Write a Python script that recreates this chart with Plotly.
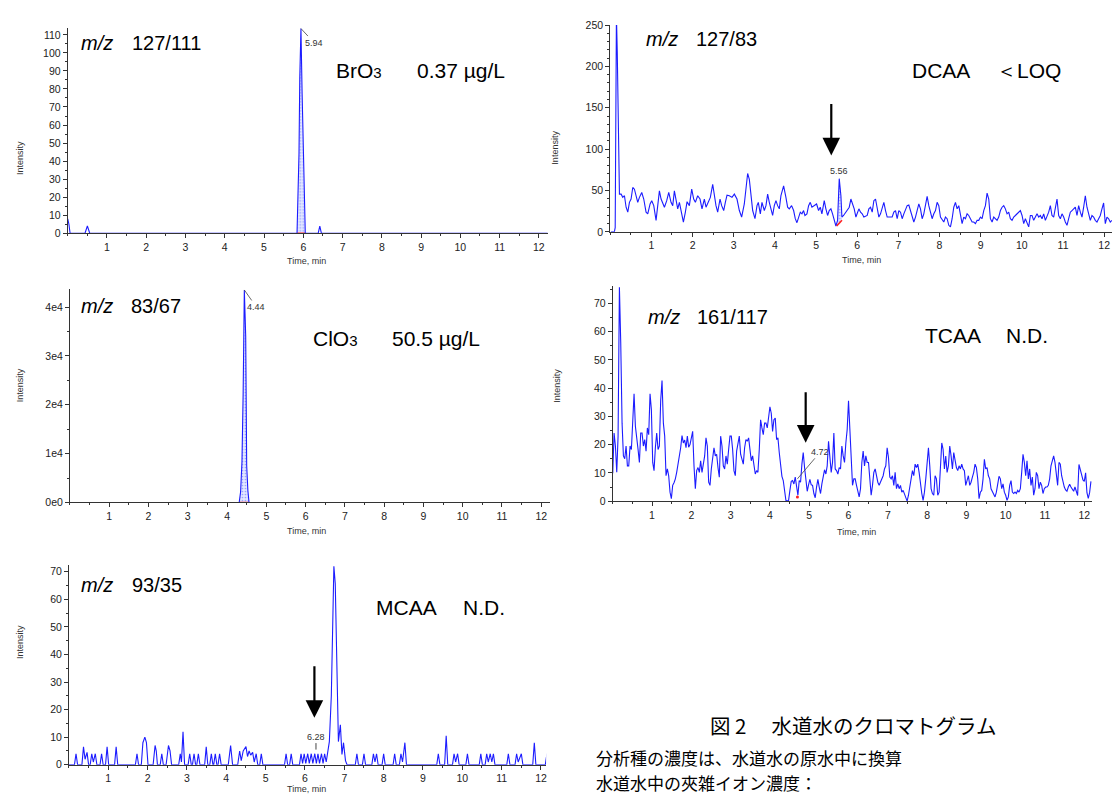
import plotly.graph_objects as go

W, H = 1113, 801

# ---------------- data ----------------
# Panel 1: m/z 127/111  (BrO3)
BRO3_T = [0.00, 0.03, 0.06, 0.44, 0.50, 0.56, 5.84, 5.86, 5.89, 5.91, 5.94, 5.97, 6.00, 6.02, 6.05,
          6.38, 6.42, 6.46, 12.25]
BRO3_I = [8, 5, 0, 0, 4, 0, 0, 14, 44, 86, 113.5, 77, 40, 16, 0, 0, 4, 0, 0]
BRO3_WIN = (5.84, 6.05)
BRO3_RT, BRO3_TOP = 5.94, 113.5

# Panel 3: m/z 83/67  (ClO3)
CLO3_T = [0.0, 4.31, 4.345, 4.38, 4.41, 4.44, 4.475, 4.50, 4.53, 4.56, 12.25]
CLO3_I = [0, 0, 2150, 8340, 22320, 43500, 34080, 7530, 2490, 0, 0]
CLO3_WIN = (4.31, 4.56)
CLO3_RT, CLO3_TOP = 4.44, 43500

# Panel 2: m/z 127/83  (DCAA)  -- first part with read-off times
DCAA_T_A = [0.02, 0.10, 0.12, 0.15, 0.17, 0.19, 0.21,
            0.223, 0.264, 0.304, 0.345, 0.385, 0.426, 0.466, 0.506, 0.547, 0.587,
            0.628, 0.668, 0.709, 0.765, 0.814, 0.870, 0.911, 0.968, 1.008, 1.057,
            1.113, 1.154, 1.194, 1.235, 1.275, 1.316, 1.372, 1.421, 1.477, 1.518,
            1.558, 1.599, 1.639, 1.680, 1.720, 1.777, 1.825, 1.866, 1.922, 1.979,
            2.027, 2.068, 2.124, 2.181, 2.229, 2.286, 2.327, 2.383, 2.432, 2.489,
            2.529, 2.569, 2.610, 2.667, 2.707, 2.756, 2.796, 2.837, 2.893, 2.958,
            3.015, 3.079, 3.136, 3.192, 3.257, 3.298, 3.338, 3.379, 3.419, 3.460,
            3.516, 3.565, 3.597, 3.646, 3.686, 3.743, 3.783, 3.824, 3.864, 3.905,
            3.945, 3.985, 4.026, 4.066, 4.107, 4.147, 4.212, 4.268, 4.309, 4.349,
            4.406, 4.455, 4.495, 4.536, 4.576, 4.617, 4.657, 4.697, 4.730, 4.778,
            4.819, 4.859, 4.900, 4.956, 5.013, 5.061, 5.102, 5.142, 5.199, 5.239,
            5.280, 5.320, 5.361, 5.401, 5.442, 5.482, 5.523, 5.563, 5.604, 5.628,
            5.668, 5.717, 5.765, 5.806, 5.846, 5.886, 5.927, 5.968]
DCAA_I_A = [0, 0, 5, 262, 218, 134, 61,
            45.6, 45.6, 41.7, 43.7, 29.8, 23.8, 35.7, 39.7, 53.6, 51.6,
            43.7, 35.7, 41.7, 47.6, 39.7, 23.8, 21.8, 33.7, 37.7, 31.7,
            13.9, 35.7, 49.6, 39.7, 33.7, 29.8, 37.7, 47.6, 35.7, 31.7,
            49.6, 35.7, 27.8, 35.7, 25.8, 11.9, 23.8, 36.5, 31.7, 51.6,
            39.7, 35.7, 43.7, 39.7, 27.8, 39.7, 29.8, 35.7, 41.7, 57.5,
            43.7, 31.7, 23.8, 39.7, 31.7, 25.8, 35.7, 44.4, 43.7, 41.7,
            45.6, 39.7, 25.8, 17.9, 33.7, 51.6, 70.6, 63.5, 43.7, 25.8,
            15.9, 31.7, 35.7, 21.8, 35.7, 25.8, 31.7, 45.6, 35.7, 27.8,
            19.8, 31.7, 37.7, 31.7, 27.8, 43.7, 55.6, 41.7, 29.8, 27.8,
            31.7, 25.8, 15.9, 11.1, 17.9, 23.8, 21.8, 25.8, 19.8, 21.8,
            31.7, 35.7, 29.8, 31.7, 33.7, 25.8, 29.8, 21.8, 37.7, 27.8,
            19.8, 25.8, 27.8, 21.8, 13.9, 7.1, 13.9, 64.3, 43.7, 17.9,
            19.8, 23.8, 27.8, 29.8, 39.7, 33.7, 27.8, 17.9]
# second part: regular scans from 6.00 min
DCAA_B_START, DCAA_B_STEP = 6.00, 0.04045
DCAA_I_B = [21.8, 27.8, 23.8, 21.8, 17.9, 19, 19.8, 27.8, 29.8, 23.8,
            37.7, 39.7, 29.8, 17.9, 21.8, 29.8, 35.7, 25.8, 17.9, 17.9,
            17.9, 17.9, 23.8, 25.8, 15.9, 25.8, 23.8, 15.9, 21.8, 27.8,
            31.7, 32.5, 25.8, 17.9, 11.9, 17.9, 27.8, 33.7, 27.8, 15.9,
            21.8, 31.7, 42.9, 31.7, 21.8, 15.9, 21.8, 25.8, 35.7, 31.7,
            17.9, 13.9, 11.9, 17.9, 15.9, 7.9, 6.0, 15.9, 29.8, 35.7,
            27.8, 31.7, 19.8, 9.9, 17.9, 15.9, 21.8, 19.8, 15.9, 11.9,
            11.9, 9.9, 13.9, 13.9, 17.9, 15.9, 25.8, 31.7, 46.8, 39.7,
            15.9, 11.9, 17.9, 15.9, 13.9, 17.9, 25.8, 29.8, 31.7, 27.8,
            21.8, 23.8, 15.9, 13.9, 17.9, 19.8, 21.8, 23.8, 25.8, 19.8,
            9.9, 15.9, 9.9, 6.0, 19.8, 19.8, 13.9, 17.9, 21.8, 17.9,
            19.8, 15.9, 21.8, 13.9, 17.9, 23.8, 31.7, 19.8, 17.9, 29.8,
            39.7, 19.8, 15.9, 21.8, 17.9, 11.9, 7.9, 15.9, 23.8, 25.8,
            27.8, 29.8, 19.8, 31.7, 23.8, 17.9, 29.8, 43.7, 29.8, 19.8,
            13.9, 19.8, 17.9, 13.9, 11.9, 15.9, 19.8, 27.8, 34.9, 9.9,
            17.9, 15.9, 11.9, 13.9]
DCAA_WIN = (5.50, 5.63)
DCAA_BASE = (7, 14)
DCAA_RT, DCAA_TOP = 5.56, 64.3

# Panel 4: m/z 161/117  (TCAA) -- regular scans
TCAA_START, TCAA_STEP = 0.0, 0.0339
TCAA_I = [9.9, 24.1, 19.5, 10.2, 23, 75.7, 56, 27.6, 16, 15,
          19.5, 12.5, 12.5, 19.5, 18.3, 30, 38, 26.5, 21.2, 18.3,
          13.7, 24.1, 24.1, 19.5, 21.8, 17.7, 25.9, 23.5, 38, 32.3,
          13.7, 10.8, 18.9, 24.1, 18.3, 19.5, 35.7, 42.7, 27.6, 23,
          9, 11.4, 9, 3.2, 0.9, 5.6, 6.5, 7.9, 10.2, 13.1,
          15.4, 18.9, 23.2, 20.6, 21.6, 18.9, 23, 19.1, 20, 23,
          24.7, 12.5, 4.4, 10.8, 11.9, 10.2, 14.3, 10.2, 12.5, 16,
          22.4, 19.5, 6.7, 5.6, 11.4, 16.6, 18.9, 16, 16.6, 11.9,
          8.5, 23, 19.5, 12.5, 11.4, 16, 13.1, 18.3, 23, 23,
          18.3, 10.8, 9, 17.7, 21.2, 23, 16.6, 14.3, 13.1, 18.9,
          21.8, 21.2, 22.4, 18.3, 14.3, 16, 11.9, 9.6, 10.8, 10.2,
          18.3, 28.8, 25.9, 23.5, 27.6, 27.6, 25.9, 30.5, 33.4, 31.1,
          24.7, 28.8, 29.4, 21.8, 22.4, 17.2, 11.9, 8.8, 7.3, 2.7,
          0.3, 0, 0.3, 3.8, 7, 7.3, 6.1, 8.5, 4.2, 2.1,
          7.3, 6.7, 13.1, 17.2, 11.9, 6.5, 3.5, 5.8, 7.7, 5.8,
          5.6, 2.7, 1.2, 5, 7.7, 5, 2.7, 6.1, 9.3, 11.1,
          9.6, 12.5,
          21.2, 16, 10.2, 13.7, 24.1, 11.4, 10.8, 9.6, 11.9, 11.4,
          19.5, 16, 13.7, 20.6, 25.3, 35.5, 25.3, 11.4, 5.6, 7.9,
          7.9, 5.6, 3.2, 1.5, 4.4, 13.7, 17.7, 12.5, 16, 13.7,
          13.7, 7.9, 2.1, 5.6, 10.2, 11.4, 9, 6.7, 5.6, 6.7,
          7.9, 9, 11.4, 12.5, 18.9, 15.4, 8.5, 7.9, 9, 5.6,
          10.2, 4.4, 6.1, 4.4, 5.6, 3.2, 3.8, 2.7, 1.5, 0,
          2.1, 5.6, 7.9, 10.8, 9, 13.1, 11.9, 13.1, 10.2, 5.6,
          2.7, 0.3, 3.2, 7.9, 14.8, 18.9, 12.5, 4.4, 2.7, 2.1,
          9, 7.9, 2.1, 3.2, 11.9, 20.6, 18.3, 11.4, 16, 10.2,
          12.5, 19.5, 16, 11.4, 17.2, 13.7, 11.9, 10.8, 12.5, 11.4,
          13.1, 11.4, 10.8, 5.6, 7.9, 9, 5.6, 6.7, 8.5, 10.2,
          13.1, 11.9, 7.9, 0.9, 3.2, 3.8, 7.9, 14.8, 11.4, 11.9,
          9, 7.9, 4.4, 3.2, 2.7, 1.5, 3.2, 6.7, 8.8, 7.9,
          4.4, 6.1, 3.2, 2.1, 0.3, 1.5, 5.6, 7.3, 3.2, 2.7,
          3.2, 2.7, 3.8, 3.2, 4.4, 10.2, 16.6, 13.7, 9, 14.3,
          7.9, 11.4, 5.6, 8.5, 2.1, 4.4, 10.2, 9, 4.4, 6.7,
          5.6, 2.7, 4.4, 5, 5, 5.6, 7.9, 12.5, 14.8, 16,
          13.7, 9, 5.6, 13.7, 13.1, 9, 6.7,
          5, 4, 3.5, 5, 6, 5, 4, 3.5, 5, 3,
          2, 13, 11, 9, 7.5, 7, 10, 3, 1, 3, 7]
TCAA_MARK = (4.70, 1.5)
TCAA_LABEL = (4.70, 7.9, "4.72")

# Panel 5: m/z 93/35  (MCAA)
MCAA_T = [0.00, 0.14, 0.18, 0.22, 0.33, 0.37, 0.41, 0.46, 0.50, 0.54, 0.58, 0.62, 0.67, 0.71,
          0.79, 0.83, 0.87, 0.93, 0.97, 1.01, 1.16, 1.20, 1.24, 1.69, 1.73, 1.77,
          1.84, 1.88, 1.93, 1.97, 2.01, 2.14, 2.19, 2.22, 2.25, 2.32, 2.36, 2.40,
          2.47, 2.53, 2.57, 2.61, 2.79, 2.83, 2.86, 2.90, 2.94,
          3.03, 3.07, 3.11, 3.14, 3.18, 3.22, 3.25, 3.29, 3.33,
          3.45, 3.49, 3.53, 3.58, 3.62, 3.66, 3.68, 3.72, 3.76, 3.79, 3.83, 3.87,
          4.05, 4.11, 4.16, 4.29, 4.34, 4.38, 4.43, 4.50, 4.54, 4.58, 4.62, 4.67, 4.71, 4.76, 4.80,
          4.85, 4.89, 4.93, 5.48, 5.52, 5.56, 5.61, 5.65, 5.69,
          5.86, 5.90, 5.94, 5.98, 6.02, 6.07, 6.11, 6.16, 6.20, 6.25, 6.29, 6.33, 6.37,
          6.42, 6.46, 6.50, 6.54, 6.58, 6.62, 6.67, 6.70, 6.735, 6.77, 6.79, 6.82, 6.85,
          6.90, 6.94, 6.98, 7.03, 7.07,
          7.28, 7.32, 7.36, 7.46, 7.50, 7.54, 7.70, 7.74, 7.78, 7.82, 7.86, 7.96, 8.00, 8.04,
          8.24, 8.28, 8.32, 8.40, 8.44, 8.48, 8.54, 8.58,
          9.35, 9.39, 9.43, 9.55, 9.59, 9.63, 9.75, 9.79, 9.83, 9.88, 9.92,
          10.09, 10.13, 10.17, 10.43, 10.47, 10.51, 10.58, 10.62, 10.66, 10.71, 10.75, 10.79, 10.83,
          11.13, 11.17, 11.21, 11.34, 11.38, 11.42, 11.50, 11.54, 11.79, 11.83, 11.87,
          12.11, 12.15, 12.19, 12.22, 12.25]
MCAA_I = [0, 0, 4, 0, 0, 6.5, 2, 4.5, 0, 0, 4, 1, 4, 0,
          0, 4, 0, 0, 6.5, 0, 0, 6.5, 0, 0, 4, 0,
          0, 8, 10, 8, 0, 0, 7, 5, 0, 0, 4, 0,
          0, 7, 5, 0, 0, 4, 1, 12, 0,
          0, 4, 0, 0, 4, 0, 0, 4, 0,
          0, 6.5, 0, 0, 4, 0, 0, 4, 0, 0, 4, 0,
          0, 7, 0, 0, 5, 1.5, 5, 6.6, 3, 5, 3.5, 4.5, 1, 4, 0,
          0, 4, 0, 0, 4, 0, 0, 4, 0,
          0, 4, 0.5, 4, 0.5, 4, 0.5, 4, 0.5, 4, 0.5, 4, 0.5,
          4, 0.5, 4, 1, 4, 8.4, 25, 51, 72, 65.6, 52, 27.5, 8.4,
          14.5, 3.7, 8, 1.5, 0,
          0, 4, 0, 0, 4, 0, 0, 4, 1, 4, 0, 0, 4, 0,
          0, 4, 0, 0, 4, 1, 8, 0,
          0, 4, 0, 0, 10.5, 0, 0, 4, 1, 4, 0,
          0, 4, 0, 0, 4, 0, 0, 4, 1, 4, 1, 4, 0,
          0, 4, 0, 0, 4, 1, 4, 0, 0, 8, 0,
          0, 4, 3, 3.5, 3]
MCAA_LABEL = (6.28, 5.5, "6.28")

# axes setup values
X_TICKS = list(range(1, 13))
Y1_TICKS = list(range(0, 111, 10))
Y2_TICKS = [0, 50, 100, 150, 200, 250]
Y3_TICKS = [0, 10000, 20000, 30000, 40000]
Y3_TEXT = ["0e0", "1e4", "2e4", "3e4", "4e4"]
Y4_TICKS = list(range(0, 71, 10))
Y5_TICKS = list(range(0, 71, 10))

# ---------------- figure ----------------
BLUE = "#1c1cff"
TICKFONT = dict(family="Liberation Sans Narrow, Arial Narrow, Liberation Sans, Arial", size=10.5, color="#222")
LBLFONT = dict(family="Liberation Sans Narrow, Liberation Sans, Arial", size=9, color="#333")
TXT = "Liberation Sans, Arial"
CJK = "Noto Sans CJK JP"


def px(x, y):
    return x / W, 1 - y / H


fig = go.Figure()


def line(t, v, ax):
    fig.add_trace(go.Scatter(x=t, y=v, mode="lines", line=dict(color=BLUE, width=1.1),
                             xaxis="x" + ax, yaxis="y" + ax, hoverinfo="skip"))


def hatch(t, v, ax, fill="tozeroy"):
    fig.add_trace(go.Scatter(x=t, y=v, mode="none", fill=fill,
                             fillcolor="rgba(215,222,255,0.8)",
                             fillpattern=dict(shape=".", fgcolor="#4a5cff", bgcolor="rgba(225,230,255,0.9)",
                                              size=3, solidity=0.25),
                             xaxis="x" + ax, yaxis="y" + ax, hoverinfo="skip"))


def red(t, v, ax):
    fig.add_trace(go.Scatter(x=t, y=v, mode="lines", line=dict(color="#ff2020", width=1.6),
                             xaxis="x" + ax, yaxis="y" + ax, hoverinfo="skip"))


def window(T, I, win):
    pts = [(t, i) for t, i in zip(T, I) if win[0] <= t <= win[1]]
    return [p[0] for p in pts], [p[1] for p in pts]


# panel 1
wt, wi = window(BRO3_T, BRO3_I, BRO3_WIN)
hatch(wt, wi, "")
red(list(BRO3_WIN), [0, 0], "")
line(BRO3_T, BRO3_I, "")

# panel 2
dcaa_t = DCAA_T_A + [DCAA_B_START + k * DCAA_B_STEP for k in range(len(DCAA_I_B))]
dcaa_i = DCAA_I_A + DCAA_I_B
wt, wi = window(dcaa_t, dcaa_i, DCAA_WIN)
hatch([DCAA_WIN[0]] + wt + [DCAA_WIN[1], DCAA_WIN[0]],
      [DCAA_BASE[0]] + wi + [DCAA_BASE[1], DCAA_BASE[0]], "2", fill="toself")
line(dcaa_t, dcaa_i, "2")
red(list(DCAA_WIN), list(DCAA_BASE), "2")

# panel 3
wt, wi = window(CLO3_T, CLO3_I, CLO3_WIN)
hatch(wt, wi, "3")
red(list(CLO3_WIN), [0, 0], "3")
line(CLO3_T, CLO3_I, "3")

# panel 4
tcaa_t = [TCAA_START + k * TCAA_STEP for k in range(len(TCAA_I))]
line(tcaa_t, TCAA_I, "4")
fig.add_trace(go.Scatter(x=[TCAA_MARK[0]], y=[TCAA_MARK[1]], mode="markers",
                         marker=dict(color="#ff2020", size=3), xaxis="x4", yaxis="y4", hoverinfo="skip"))

# panel 5
line(MCAA_T, MCAA_I, "5")


def xax(dom, rng, anchor):
    return dict(domain=dom, range=rng, anchor=anchor, tickmode="array", tickvals=X_TICKS,
                ticktext=[str(v) for v in X_TICKS], ticks="outside", ticklen=4, tickcolor="#333",
                showline=True, linecolor="#333", linewidth=1, showgrid=False, zeroline=False,
                tickfont=TICKFONT, fixedrange=True, ticklabeloverflow="allow",
                minor=dict(dtick=0.5, tick0=0, ticks="outside", ticklen=2, tickcolor="#333", showgrid=False))


def yax(dom, rng, anchor, tv, tt, mdt):
    return dict(domain=dom, range=rng, anchor=anchor, tickmode="array", tickvals=tv, ticktext=tt,
                ticks="outside", ticklen=4, tickcolor="#333", showline=True, linecolor="#333",
                linewidth=1, showgrid=False, zeroline=False, tickfont=TICKFONT, fixedrange=True,
                minor=dict(dtick=mdt, tick0=0, ticks="outside", ticklen=2, tickcolor="#333", showgrid=False))


def xd(x0, x1):
    return [x0 / W, x1 / W]


def yd(ybot, ytop):
    return [1 - ybot / H, 1 - ytop / H]


fig.update_layout(
    width=W, height=H, margin=dict(l=0, r=0, t=0, b=0),
    paper_bgcolor="white", plot_bgcolor="white", showlegend=False,
    xaxis=xax(xd(67.8, 548.0), [0, 12.22], "y"),
    yaxis=yax(yd(230.7, 22.7), [0, 113.6], "x", Y1_TICKS, [str(v) for v in Y1_TICKS], 5),
    xaxis2=xax(xd(610.8, 1113), [0, 12.19], "y2"),
    yaxis2=yax(yd(229.3, 19.3), [0, 250], "x2", Y2_TICKS, [str(v) for v in Y2_TICKS], 10),
    xaxis3=xax(xd(70, 550), [0, 12.21], "y3"),
    yaxis3=yax(yd(504, 287.3), [0, 43700], "x3", Y3_TICKS, Y3_TEXT, 5000),
    xaxis4=xax(xd(613.3, 1093.1), [0, 12.2], "y4"),
    yaxis4=yax(yd(502.7, 284), [0, 76.2], "x4", Y4_TICKS, [str(v) for v in Y4_TICKS], 5),
    xaxis5=xax(xd(69, 546.6), [0, 12.13], "y5"),
    yaxis5=yax(yd(770.3, 567.3), [0, 72.5], "x5", Y5_TICKS, [str(v) for v in Y5_TICKS], 5),
)

ann = []


def text(x, y, s, size, family=TXT, xanchor="left", color="black"):
    xp, yp = px(x, y)
    ann.append(dict(x=xp, y=yp, xref="paper", yref="paper", text=s, showarrow=False,
                    xanchor=xanchor, yanchor="middle", font=dict(family=family, size=size, color=color)))


SUB3 = "<span style='font-size:15px'>3</span>"
# ion transitions and results
for (mx, nx, y, mz) in [(79, 130, 37.5, "127/111"), (645, 695, 34, "127/83"), (79, 129, 304.2, "83/67"),
                        (647, 696, 315.8, "161/117"), (79, 130, 587.5, "93/35")]:
    text(mx, y, "<i>m/z</i>", 20)
    text(nx, y, mz, 20)
for (x1, x2, y, a, b) in [(334, 415, 65.8, "BrO" + SUB3, "0.37 µg/L"), (911, 995, 65.3, "DCAA", "＜LOQ"),
                          (311, 390, 338, "ClO" + SUB3, "50.5 µg/L"), (924, 1005, 335, "TCAA", "N.D."),
                          (374, 461, 611, "MCAA", "N.D.")]:
    text(x1, y, a, 21)
    text(x2, y, b, 21)

# axis titles
for (x, y) in [(307, 259), (862, 258), (307, 533), (857, 534), (307, 795)]:
    text(x, y, "Time, min", 9, family="Liberation Sans Narrow, Liberation Sans, Arial", xanchor="center", color="#333")
for (x, y) in [(13, 135), (556, 125), (13, 385), (558, 385), (13, 665)]:
    xp, yp = px(x, y)
    ann.append(dict(x=xp, y=yp, xref="paper", yref="paper", text="Intensity", showarrow=False, textangle=-90,
                    font=dict(family="Liberation Sans Narrow, Liberation Sans, Arial", size=9, color="#333")))

# peak labels
ann.append(dict(x=BRO3_RT, y=BRO3_TOP, xref="x", yref="y", text="5.94", showarrow=True, arrowhead=0,
                arrowwidth=0.8, arrowcolor="#444", ax=13, ay=14, font=LBLFONT, standoff=0))
ann.append(dict(x=CLO3_RT, y=CLO3_TOP, xref="x3", yref="y3", text="4.44", showarrow=True, arrowhead=0,
                arrowwidth=0.8, arrowcolor="#444", ax=12, ay=17, font=LBLFONT, standoff=0))
ann.append(dict(x=DCAA_RT, y=DCAA_TOP, xref="x2", yref="y2", text="5.56", showarrow=False,
                yanchor="bottom", yshift=1, font=LBLFONT))
ann.append(dict(x=TCAA_LABEL[0], y=TCAA_LABEL[1], xref="x4", yref="y4", text=TCAA_LABEL[2], showarrow=True,
                arrowhead=0, arrowwidth=0.8, arrowcolor="#444", ax=23, ay=-27, font=LBLFONT, standoff=0))
ann.append(dict(x=MCAA_LABEL[0], y=MCAA_LABEL[1], xref="x5", yref="y5", text=MCAA_LABEL[2], showarrow=True,
                arrowhead=0, arrowwidth=1, arrowcolor="#444", ax=0, ay=-13, font=LBLFONT, standoff=0))

# arrows marking expected retention times
for (xr, yr, xv, yv, ay) in [("x2", "y2", 5.37, 92.4, -53), ("x4", "y4", 4.91, 20.7, -52),
                             ("x5", "y5", 6.24, 17, -53)]:
    ann.append(dict(x=xv, y=yv, xref=xr, yref=yr, text="", showarrow=True, arrowhead=2, arrowsize=1.6,
                    arrowwidth=2.2, arrowcolor="black", ax=0, ay=ay, standoff=0))

# caption
text(854, 730, "図 2　 水道水のクロマトグラム", 20.5, family=CJK, xanchor="center")
text(595, 763, "分析種の濃度は、水道水の原水中に換算", 17, family=CJK)
text(595, 788, "水道水中の夾雑イオン濃度：", 17, family=CJK)

fig.update_layout(annotations=ann)
fig.write_html("out.html", config={"displayModeBar": False},
               post_script="document.body.style.margin='0px';document.body.style.overflow='hidden';")
